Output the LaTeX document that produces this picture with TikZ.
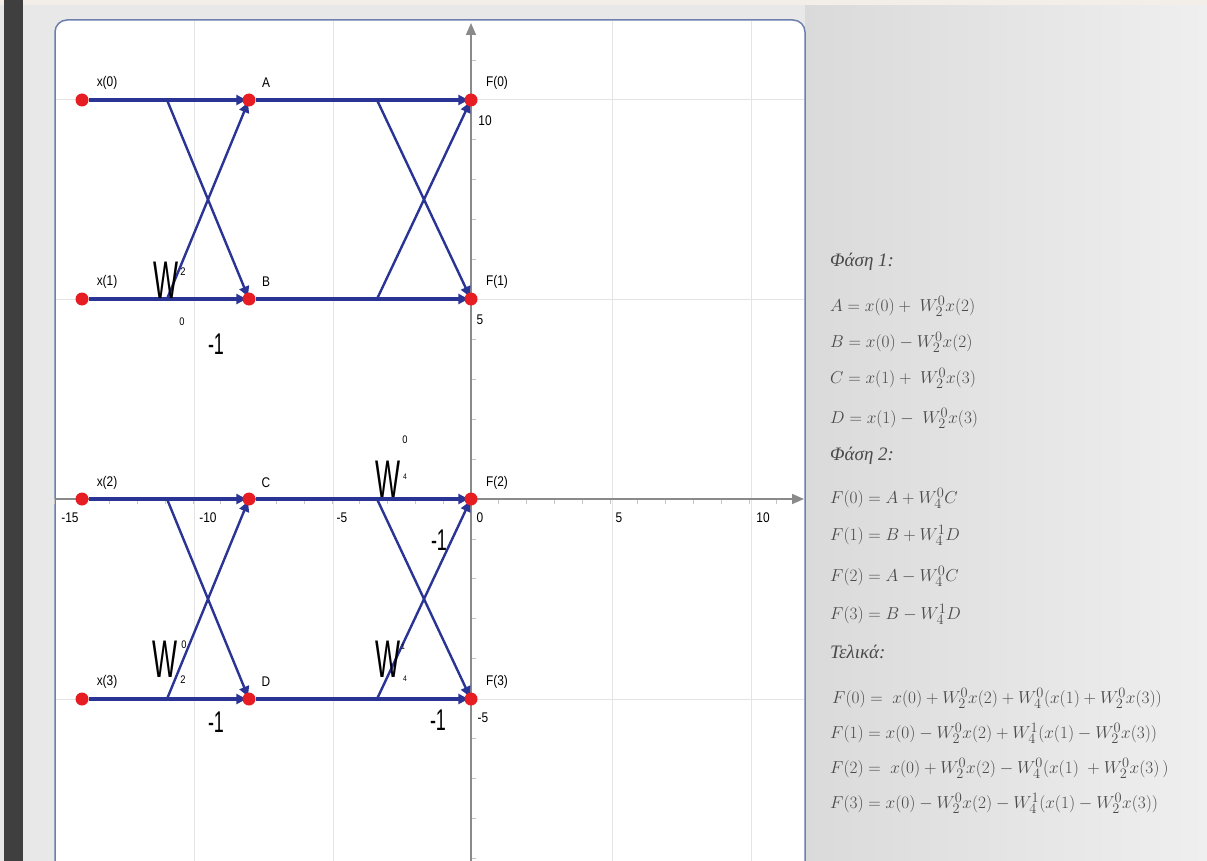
\documentclass[tikz,border=0pt]{standalone}
\usepackage{fontspec}
\setmainfont{Liberation Serif}
\newfontfamily\lab[FakeStretch=0.85]{Liberation Sans}
\newfontfamily\wfont[FakeStretch=0.5]{Liberation Sans}
\newfontfamily\mfont[FakeStretch=0.6]{Liberation Sans}
\usetikzlibrary{arrows.meta}
\pgfdeclarelayer{back}
\pgfdeclarelayer{mid}
\pgfsetlayers{back,mid,main}
\definecolor{darkbar}{HTML}{3F3F3F}
\definecolor{leftgray}{HTML}{E8E8E8}
\definecolor{topbeige}{HTML}{F3EEE8}
\definecolor{panelblue}{HTML}{6D7FAE}
\definecolor{gridgray}{HTML}{E4E4E4}
\definecolor{axisgray}{HTML}{8A8A8A}
\definecolor{flowblue}{RGB}{42,52,148}
\definecolor{dotred}{RGB}{230,30,36}
\definecolor{eqgray}{HTML}{4A4A4A}
\definecolor{rightA}{HTML}{DADADA}
\definecolor{rightB}{HTML}{EFEFEF}
\begin{document}
\begin{tikzpicture}[x=1pt,y=-1pt,
  dot/.style={circle,fill=dotred,draw=none,minimum size=13pt,inner sep=0pt},
  flow/.style={draw=flowblue,line width=3.4pt,-{Triangle[length=10pt,width=10pt]},shorten >=-4pt},
  cross/.style={draw=flowblue,line width=2.4pt,-{Triangle[length=10pt,width=10pt]},shorten >=-4pt},
  lbl/.style={font=\lab\fontsize{14}{14}\selectfont,inner sep=0pt},
  axlbl/.style={font=\lab\fontsize{14}{14}\selectfont,inner sep=0pt},
  bigW/.style={font=\wfont\fontsize{53}{53}\selectfont,inner sep=0pt},
  small/.style={font=\lab\fontsize{11}{11}\selectfont,inner sep=0pt},
  tinyl/.style={font=\lab\fontsize{8}{8}\selectfont,inner sep=0pt},
  mone/.style={font=\mfont\fontsize{30}{30}\selectfont,inner sep=0pt},
  eq/.style={font=\fontsize{19}{23}\selectfont,text=eqgray,anchor=west,inner sep=0pt},
  gridl/.style={draw=gridgray,line width=1pt},
  axisl/.style={draw=axisgray,line width=1.6pt,-{Triangle[length=12pt,width=10pt]}},
  tickl/.style={draw=axisgray!50,line width=0.8pt}
]
\useasboundingbox (0,0) rectangle (1207,861);
\clip (0,0) rectangle (1207,861);
\begin{pgfonlayer}{back}
  \fill[leftgray] (0,0) rectangle (1207,861);
  \shade[left color=rightA,right color=rightB] (805,0) rectangle (1207,861);
  \fill[topbeige] (0,0) rectangle (1207,5);
  \fill[darkbar] (4,0) rectangle (23,861);
  \draw[fill=white,draw=panelblue,line width=1.5pt,rounded corners=12pt]
    (55,920) -- (55,20) -- (805,20) -- (805,920);
  % grid
  \foreach \gx in {194,333,612,751} \draw[gridl] (\gx,21) -- (\gx,861);
  \foreach \gy in {100,299,699} \draw[gridl] (56,\gy) -- (804,\gy);
  % ticks
  \foreach \k in {-15,...,11} \draw[tickl] ({471+27.8*\k},499) -- ++(0,5);
  \foreach \k in {-9,...,11} \draw[tickl] (471,{499-39.9*\k}) -- ++(5,0);
  % axes
  \draw[axisl] (56,499) -- (804,499);
  \draw[axisl] (471,861) -- (471,23);
\end{pgfonlayer}

% nodes
\node[dot] (x0) at (82,100) {};
\node[dot] (A)  at (249,100) {};
\node[dot] (F0) at (471,100) {};
\node[dot] (x1) at (82,299) {};
\node[dot] (B)  at (249,299) {};
\node[dot] (F1) at (471,299) {};
\node[dot] (x2) at (82,499) {};
\node[dot] (C)  at (249,499) {};
\node[dot] (F2) at (471,499) {};
\node[dot] (x3) at (82,699) {};
\node[dot] (D)  at (249,699) {};
\node[dot] (F3) at (471,699) {};

\coordinate (p0) at (167,100);
\coordinate (p1) at (167,299);
\coordinate (q0) at (377,100);
\coordinate (q1) at (377,299);
\coordinate (p2) at (167,499);
\coordinate (p3) at (167,699);
\coordinate (q2) at (377,499);
\coordinate (q3) at (377,699);

\begin{pgfonlayer}{mid}
  \draw[flow] (x0) -- (A);
  \draw[flow] (x1) -- (B);
  \draw[cross] (p0) -- (B);
  \draw[cross] (p1) -- (A);
  \draw[flow] (A) -- (F0);
  \draw[flow] (B) -- (F1);
  \draw[cross] (q0) -- (F1);
  \draw[cross] (q1) -- (F0);
  \draw[flow] (x2) -- (C);
  \draw[flow] (x3) -- (D);
  \draw[cross] (p2) -- (D);
  \draw[cross] (p3) -- (C);
  \draw[flow] (C) -- (F2);
  \draw[flow] (D) -- (F3);
  \draw[cross] (q2) -- (F3);
  \draw[cross] (q3) -- (F2);
\end{pgfonlayer}

% node labels
\node[lbl] (lx0) at (107,83) {x(0)};
\node[lbl] (lA)  at (266,83) {A};
\node[lbl] (lF0) at (497,83) {F(0)};
\node[lbl] (lx1) at (107,282) {x(1)};
\node[lbl] (lB)  at (266,282) {B};
\node[lbl] (lF1) at (497,282) {F(1)};
\node[lbl] (lx2) at (107,483) {x(2)};
\node[lbl] (lC)  at (266,483) {C};
\node[lbl] (lF2) at (497,483) {F(2)};
\node[lbl] (lx3) at (107,682) {x(3)};
\node[lbl] (lD)  at (266,682) {D};
\node[lbl] (lF3) at (497,682) {F(3)};

% axis numbers
\node[axlbl] (n15) at (70,518) {-15};
\node[axlbl] (n10) at (208,518) {-10};
\node[axlbl] (n5)  at (342,518) {-5};
\node[axlbl] (n0)  at (480,518) {0};
\node[axlbl] (p5)  at (619,518) {5};
\node[axlbl] (p10) at (763,518) {10};
\node[axlbl] (y10) at (485,121) {10};
\node[axlbl] (y5)  at (480,320) {5};
\node[axlbl] (ym5) at (483,718) {-5};

% twiddle labels
\node[bigW] (w1) at (166,280) {W};
\node[small] (w1s) at (183,272) {2};
\node[small] (w1b) at (182,322) {0};
\node[mone] (m1) at (216,344) {-1};

\node[bigW] (w2) at (165,659) {W};
\node[small] (w2s) at (184,645) {0};
\node[small] (w2b) at (183,680) {2};
\node[mone] (m2) at (216,722) {-1};

\node[bigW] (w3) at (388,479) {W};
\node[small] (w3s) at (405,440) {0};
\node[tinyl] (w3b) at (405,477) {4};
\node[mone] (m3) at (439,540) {-1};

\node[bigW] (w4) at (388,659) {W};
\node[tinyl] (w4s) at (403,647) {1};
\node[tinyl] (w4b) at (405,679) {4};
\node[mone] (m4) at (438,720) {-1};

% equations
\node[eq] (e1)  at (830,262) {\itshape Φάση 1:};
\node[eq] (e2)  at (830,306) {$A = x(0) +\ W_2^0x(2)$};
\node[eq] (e3)  at (830,342) {$B = x(0) - W_2^0x(2)$};
\node[eq] (e4)  at (830,378) {$C = x(1) +\ W_2^0x(3)$};
\node[eq] (e5)  at (830,418) {$D = x(1) -\ W_2^0x(3)$};
\node[eq] (e6)  at (830,456) {\itshape Φάση 2:};
\node[eq] (e7)  at (830,498) {$F(0) = A + W_4^0C$};
\node[eq] (e8)  at (830,535) {$F(1) = B + W_4^1D$};
\node[eq] (e9)  at (830,576) {$F(2) = A - W_4^0C$};
\node[eq] (e10) at (830,614) {$F(3) = B - W_4^1D$};
\node[eq] (e11) at (830,652) {\itshape Τελικά:};
\node[eq] (e12) at (832,698) {$F(0) = \ x(0) + W_2^0x(2) + W_4^0(x(1) + W_2^0x(3))$};
\node[eq] (e13) at (830,733) {$F(1) = x(0) - W_2^0x(2) + W_4^1(x(1) - W_2^0x(3))$};
\node[eq] (e14) at (830,768) {$F(2) = \ x(0) + W_2^0x(2) - W_4^0(x(1)\ + W_2^0x(3)\,)$};
\node[eq] (e15) at (830,803) {$F(3) = x(0) - W_2^0x(2) - W_4^1(x(1) - W_2^0x(3))$};
\end{tikzpicture}
\end{document}
